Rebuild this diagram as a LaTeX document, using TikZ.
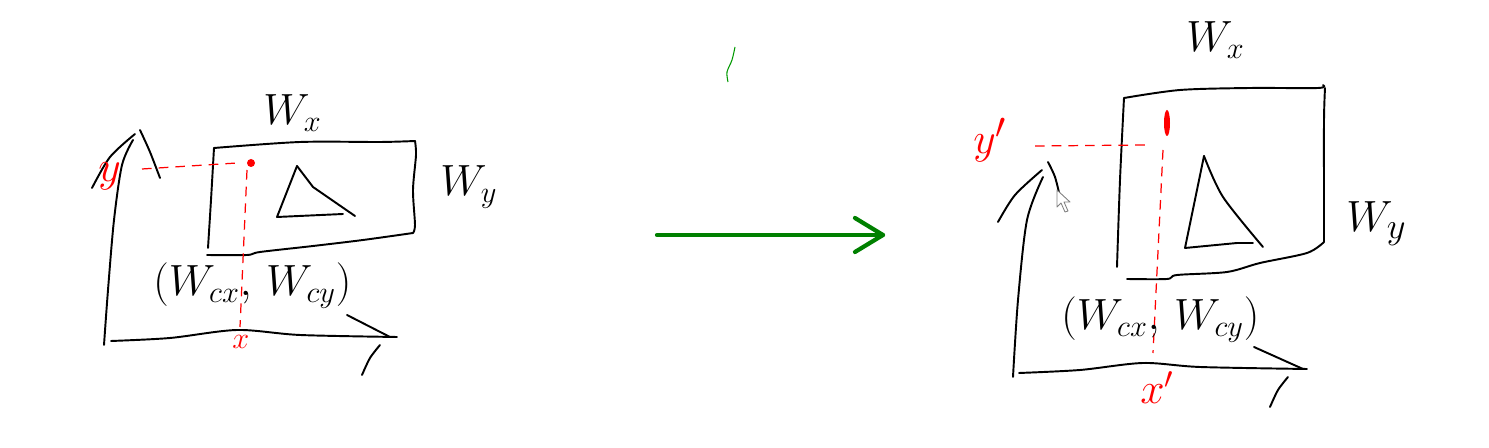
\documentclass[tikz,border=0pt]{standalone}
\usepackage{amsmath}
\usepackage{tikz}
\usetikzlibrary{calc}

\begin{document}
\begin{tikzpicture}[
                x=0.02cm,
                y=-0.02cm,
                sketch/.style={
                        line width=1.1pt,
                        line cap=round,
                        line join=round
                    },
                guide/.style={
                        red,
                        line width=0.7pt,
                        dash pattern=on 5.5pt off 4pt
                    },
                lbl/.style={
                        inner sep=0,
                        anchor=base west,
                        font=\fontsize{25}{30}\selectfont
                    },
                redlbl/.style={
                        lbl,
                        text=red
                    }
            ]
            \useasboundingbox (0,0) rectangle (1489,448);

            % Left panel: axes
            \draw[sketch] plot[smooth] coordinates {(104,345) (108,290) (114,220) (122,165) (133,140)};
            \draw[sketch] plot[smooth] coordinates {(92,188) (110,157) (135,134)};
            \draw[sketch] plot[smooth] coordinates {(140,130) (150,152) (160,178)};
            \draw[sketch] plot[smooth] coordinates {(111,341) (170,338) (237,330) (300,335) (397,337)};
            \draw[sketch] (347,315) -- (390,337);
            \draw[sketch] plot[smooth] coordinates {(362,375) (370,358) (380,345)};

            % Left panel: window and triangle
            \draw[sketch] plot[smooth] coordinates {(214,148) (300,142) (380,142) (415,141)};
            \draw[sketch] plot[smooth] coordinates {(415,141) (416,155) (413,190) (415,225) (413,233)};
            \draw[sketch] plot[smooth] coordinates {(413,233) (363,240) (313,246) (260,252) (247,255) (207,255)};
            \draw[sketch] plot[smooth] coordinates {(214,148) (211,200) (208,248)};
            \draw[sketch] (297,166) -- (277,217) -- (343,214);
            \draw[sketch] (297,166) -- (313,187) -- (355,216);

            % Left panel: point and guides
            \coordinate (ptA) at (251,163);
            \coordinate (yA) at (142,169);
            \coordinate (xA) at (240,327);
            \fill[red] (ptA) circle[radius=4];
            \draw[guide] (yA) -- ($(ptA)+(-14,0)$);
            \draw[guide] ($(ptA)+(-4,7)$) -- (xA);

            % Left panel: labels
            \node[lbl] (wxA) at (263,125) {$W_x$};
            \node[lbl] (wyA) at (440,196) {$W_y$};
            \node[lbl] (wcA) at (153,296) {$(W_{cx},\,W_{cy})$};
            \node[redlbl] (ylA) at (98,182) {$y$};
            \node[redlbl, font=\fontsize{19}{22}\selectfont] (xlA) at (232,349) {$x$};

            % Middle: transform arrow
            \coordinate (before) at (657,235);
            \coordinate (after) at (883,235);
            \draw[green!50!black, line width=2.4pt, line cap=round, line join=round] (before) -- (after);
            \draw[green!50!black, line width=2.4pt, line cap=round, line join=round]
                ($(after)+(-28,-17)$) -- (after) -- ($(after)+(-28,17)$);
            \draw[green!60!black, line width=0.6pt] plot[smooth] coordinates {(735,47) (732,60) (727,72) (728,82)};

            % Right panel: axes
            \draw[sketch] plot[smooth] coordinates {(1013,377) (1018,300) (1027,220) (1043,177)};
            \draw[sketch] plot[smooth] coordinates {(998,222) (1015,195) (1042,170)};
            \draw[sketch] plot[smooth] coordinates {(1048,162) (1055,177) (1060,197)};
            \draw[sketch] plot[smooth] coordinates {(1019,373) (1080,370) (1143,363) (1200,367) (1307,369)};
            \draw[sketch] (1254,347) -- (1303,369);
            \draw[sketch] plot[smooth] coordinates {(1270,407) (1278,390) (1288,377)};

            % Right panel: window and triangle
            \draw[sketch] plot[smooth] coordinates {(1124,98) (1180,90) (1250,88) (1318,88) (1323,85)};
            \draw[sketch] plot[smooth] coordinates {(1325,88) (1324,120) (1324,200) (1324,242)};
            \draw[sketch] plot[smooth] coordinates {(1324,242) (1307,253) (1260,263) (1227,272) (1177,275) (1167,279) (1127,279)};
            \draw[sketch] plot[smooth] coordinates {(1124,98) (1120,180) (1117,267)};
            \draw[sketch] (1204,156) -- (1185,248) -- (1237,243) -- (1253,243);
            \draw[sketch] plot[smooth] coordinates {(1204,156) (1223,197) (1263,247)};

            % Right panel: point and guides
            \coordinate (ptB) at (1167,123);
            \coordinate (yB) at (1035,146);
            \coordinate (xB) at (1153,353);
            \fill[red] (ptB) ellipse[x radius=3, y radius=13];
            \draw[guide] (yB) -- (1145,145);
            \draw[guide] ($(ptB)+(-4,27)$) -- (xB);

            % Right panel: cursor
            \draw[gray, fill=white, line width=0.5pt, line join=round]
                (1057,190) -- (1057,207) -- (1061,203) -- (1065,212) -- (1068,211) -- (1064,202) -- (1070,202) -- cycle;

            % Right panel: labels
            \node[lbl] (wxB) at (1186,52) {$W_x$};
            \node[lbl, font=\fontsize{30}{34}\selectfont] (wyB) at (1346,232) {$W_y$};
            \node[lbl] (wcB) at (1061,330) {$(W_{cx},\,W_{cy})$};
            \node[redlbl, font=\fontsize{30}{34}\selectfont] (ylB) at (973,154) {$y'$};
            \node[redlbl] (xlB) at (1140,404) {$x'$};

        \end{tikzpicture}
\end{document}
